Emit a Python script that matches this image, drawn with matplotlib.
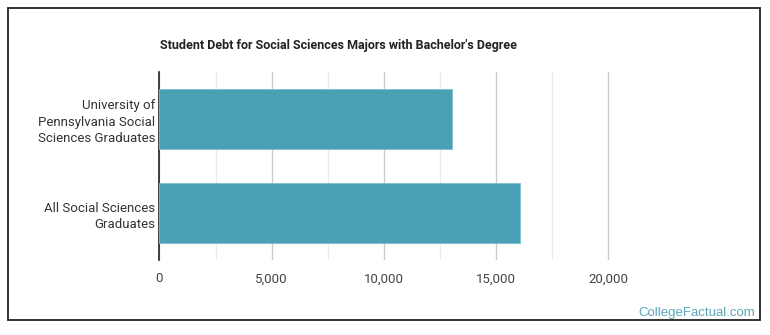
import matplotlib.pyplot as plt
from matplotlib.patches import Rectangle
from matplotlib.ticker import FuncFormatter

categories = ["University of\nPennsylvania Social\nSciences Graduates",
              "All Social Sciences\nGraduates"]
debt = [13040, 16070]
x_ticks = [0, 5000, 10000, 15000, 20000]
minor_ticks = [2500, 7500, 12500, 17500]

plt.rcParams['font.family'] = ['Roboto', 'DejaVu Sans']

fig = plt.figure(figsize=(7.7, 3.35), dpi=100)
ax = fig.add_axes([159.4 / 770, 1 - 260 / 335, 561 / 770, 188 / 335])

ax.barh(categories, debt, height=0.64, color='#4aa0b4', edgecolor='#7cc0cf',
        linewidth=0.6, zorder=3)
ax.set_ylim(1.5, -0.5)
ax.set_xlim(0, 25000)

ax.set_xticks(x_ticks)
ax.set_xticks(minor_ticks, minor=True)
ax.xaxis.set_major_formatter(FuncFormatter(lambda v, p: f"{int(v):,}"))
ax.grid(axis='x', which='major', color='#cccccc', linewidth=1, zorder=0)
ax.grid(axis='x', which='minor', color='#ebebeb', linewidth=1, zorder=0)
ax.tick_params(axis='x', which='both', length=0, pad=9, labelsize=9.5, labelcolor='#444444')
ax.tick_params(axis='y', length=0, pad=3, labelsize=9.5, labelcolor='#333333')
for lab in ax.get_yticklabels():
    lab.set_linespacing(1.35)

for s in ['top', 'right', 'bottom']:
    ax.spines[s].set_visible(False)
ax.spines['left'].set_color('#222222')
ax.spines['left'].set_linewidth(1.2)

fig.text(160 / 770, 1 - 45 / 335, "Student Debt for Social Sciences Majors with Bachelor's Degree",
         fontsize=9, fontweight='bold', color='#222222', ha='left', va='center')

fig.text(755 / 770, 1 - 313 / 335, "CollegeFactual.com", fontsize=9.5,
         family=['Liberation Sans', 'DejaVu Sans'], color='#5aa7bb', ha='right', va='center')

fig.patches.append(Rectangle((8 / 770, 1 - 320 / 335), 752 / 770, 312 / 335,
                             transform=fig.transFigure, fill=False,
                             edgecolor='#222222', linewidth=1.3))

fig.savefig('out.png', dpi=100)
